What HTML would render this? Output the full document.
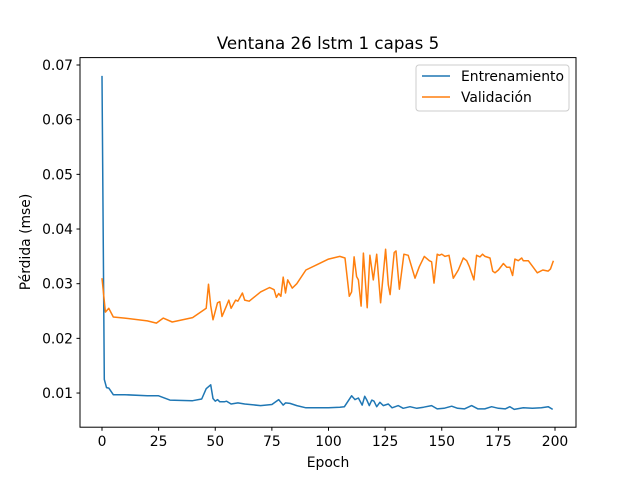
<!DOCTYPE html>
<html><head><meta charset="utf-8"><style>
body{margin:0;background:#fff}
svg text{font-family:"DejaVu Sans","Liberation Sans",sans-serif;fill:#000}
</style></head><body>
<svg id="chart" width="640" height="480" viewBox="0 0 640 480">
<rect width="640" height="480" fill="#fff"/>
<text x="328" y="49" font-size="16.7" text-anchor="middle">Ventana 26 lstm 1 capas 5</text>
<g id="grid"></g>
<g id="series"></g>
<rect x="80" y="57.6" width="496" height="369.6" fill="none" stroke="#000" stroke-width="1"/>
<text x="328" y="467" font-size="13.9" text-anchor="middle">Epoch</text>
<text transform="translate(30,242) rotate(-90)" font-size="13.9" text-anchor="middle">Pérdida (mse)</text>
<g>
<rect x="416" y="65" width="153" height="46" rx="3" fill="#fff" fill-opacity="0.8" stroke="#ccc"/>
<g><line x1="422" y1="76" x2="450" y2="76" stroke="#1f77b4" stroke-width="1.5"/><text x="461" y="81" font-size="13.9">Entrenamiento</text></g>
<g><line x1="422" y1="97" x2="450" y2="97" stroke="#ff7f0e" stroke-width="1.5"/><text x="461" y="102" font-size="13.9">Validación</text></g>
</g>
</svg>
<script>
const xTicks=[0,25,50,75,100,125,150,175,200];
const yTicks=[0.01,0.02,0.03,0.04,0.05,0.06,0.07];
const yTickLabels=["0.01","0.02","0.03","0.04","0.05","0.06","0.07"];
const trainEpochs=[0,1,2,3,4,5,10,20,25,30,40,44,46,48,49,50,51,52,54,55,57,60,63,70,75,78,79,80,81,83,86,90,100,105,107,110.2,111.7,113.2,114.9,116,116.8,118,119.1,120.1,121.3,122.7,124.2,126.4,128.1,130.8,133,136,139,142,145.5,148,151,154.4,157,160,163.2,166,169,172,175,178,180.1,182,186,190,194,197,199];
const trainLoss=[0.068,0.0125,0.011,0.0109,0.0103,0.0097,0.0097,0.0095,0.0095,0.0087,0.0086,0.0089,0.0108,0.0115,0.009,0.0085,0.0088,0.0084,0.0084,0.0085,0.008,0.0082,0.008,0.0077,0.0079,0.0088,0.0083,0.0078,0.0082,0.0081,0.0077,0.0073,0.0073,0.0074,0.0075,0.0095,0.0088,0.0091,0.0078,0.0094,0.0088,0.0077,0.0087,0.0085,0.0075,0.0083,0.0077,0.008,0.0073,0.0077,0.0072,0.0075,0.0072,0.0074,0.0077,0.0071,0.0072,0.0076,0.0072,0.0071,0.0077,0.0071,0.0071,0.0075,0.0072,0.0071,0.0075,0.007,0.0073,0.0072,0.0073,0.0075,0.007];
const valEpochs=[0,1.5,3,5,10,20,24,27,31,40,45,46,47,48,49,51,52,53,55,56,57,59,60,62,63,65,70,74,76,77,78,79,80,81,82,84,86,90,95,100,105,107.3,109.2,110.2,111.3,112.4,113.2,114.4,115.4,117.1,118.3,119.8,121.3,123,125.2,126.4,127.2,129,129.8,131.3,133.3,135.2,138.2,140.1,142.3,144.5,145.5,146.6,148,148.9,150,151.4,153.2,155.1,157.3,159.5,161,162.2,164.2,165.4,166.9,168,169.1,171.3,172.5,173.5,175,177.2,178.7,180.1,181.3,182.3,183.8,185.3,186,188.2,190.2,192.2,194.6,197,198,199.3];
const valLoss=[0.031,0.0248,0.0255,0.0239,0.0237,0.0232,0.0228,0.0237,0.023,0.0238,0.0252,0.0255,0.0299,0.026,0.0234,0.0265,0.0267,0.024,0.026,0.027,0.0255,0.027,0.0268,0.0283,0.027,0.0268,0.0285,0.0293,0.0289,0.0275,0.0282,0.0277,0.0312,0.0283,0.0307,0.0292,0.03,0.0325,0.0335,0.0345,0.035,0.0347,0.0277,0.0285,0.0349,0.0313,0.0307,0.0259,0.0356,0.0256,0.0352,0.0307,0.0354,0.0265,0.0363,0.0298,0.028,0.0357,0.036,0.029,0.0354,0.0352,0.031,0.0331,0.035,0.0342,0.034,0.0301,0.0354,0.0352,0.0354,0.035,0.0352,0.031,0.0325,0.0347,0.0342,0.0331,0.0307,0.0352,0.0349,0.0354,0.035,0.0347,0.0323,0.032,0.0325,0.0337,0.033,0.033,0.0315,0.0345,0.0342,0.0347,0.0342,0.0342,0.0331,0.032,0.0325,0.0323,0.0327,0.0342];
const NS="http://www.w3.org/2000/svg";
function xs(v){return 102+v*(555-102)/200;}
function ys(v){return 447.7-v*5467;}
const grid=document.getElementById('grid');
xTicks.forEach(t=>{
 const l=document.createElementNS(NS,'line');
 l.setAttribute('x1',xs(t));l.setAttribute('x2',xs(t));l.setAttribute('y1',427.2);l.setAttribute('y2',430.7);l.setAttribute('stroke','#000');
 
 
 grid.appendChild(l);
 const tx=document.createElementNS(NS,'text');
 tx.setAttribute('x',xs(t));tx.setAttribute('y',446);tx.setAttribute('font-size','13.9');tx.setAttribute('text-anchor','middle');tx.textContent=t;
 
 
 grid.appendChild(tx);
});
yTicks.forEach((t,i)=>{
 const l=document.createElementNS(NS,'line');
 l.setAttribute('x1',76.5);l.setAttribute('x2',80);l.setAttribute('y1',ys(t));l.setAttribute('y2',ys(t));l.setAttribute('stroke','#000');
 
 
 grid.appendChild(l);
 const tx=document.createElementNS(NS,'text');
 tx.setAttribute('x',73);tx.setAttribute('y',ys(t)+5);tx.setAttribute('font-size','13.9');tx.setAttribute('text-anchor','end');tx.textContent=yTickLabels[i];
 
 
 grid.appendChild(tx);
});
const series=document.getElementById('series');
function drawLine(ex,vals,color,name){
 const p=document.createElementNS(NS,'polyline');
 p.setAttribute('points',ex.map((e,i)=>xs(e).toFixed(1)+','+ys(vals[i]).toFixed(1)).join(' '));
 p.setAttribute('fill','none');p.setAttribute('stroke',color);p.setAttribute('stroke-width','1.5');p.setAttribute('stroke-linejoin','round');
 
 
 series.appendChild(p);
}
drawLine(trainEpochs,trainLoss,'#1f77b4','train-loss-line');
drawLine(valEpochs,valLoss,'#ff7f0e','validation-loss-line');
</script>
</body></html>
